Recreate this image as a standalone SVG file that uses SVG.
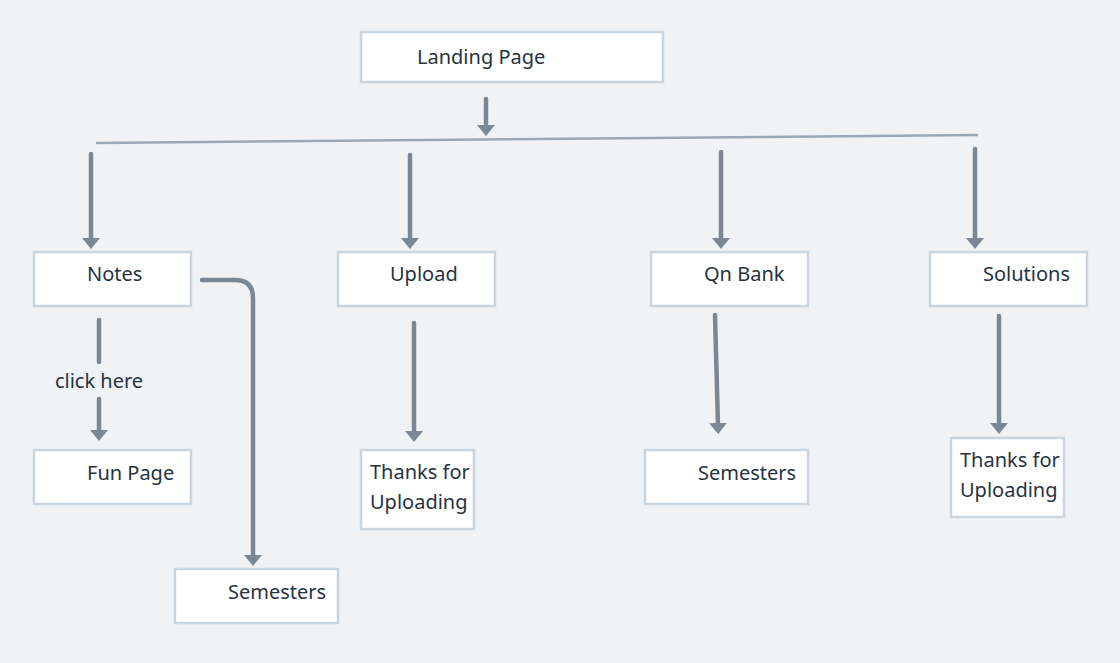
<svg xmlns="http://www.w3.org/2000/svg" width="1120" height="663" viewBox="0 0 1120 663">
<style>
.box{fill:#ffffff;stroke:#c9d5df;stroke-width:2.5}
.t{font-family:"Noto Sans","DejaVu Sans",sans-serif;font-size:20px;fill:#253341}
.c{fill:none;stroke:#7a8896;stroke-width:4.5;stroke-linecap:round}
.a{marker-end:url(#ah)}
</style>
<defs>
<marker id="ah" viewBox="0 0 11 18" markerWidth="11" markerHeight="18" refX="3" refY="9" orient="auto" markerUnits="userSpaceOnUse">
<path d="M0,0 L11,9 L0,18 z" fill="#7a8896"/>
</marker>
</defs>
<rect width="1120" height="663" fill="#eff3f6"/>
<g id="connectors">
<path class="c a" d="M486,99 V128"/>
<path d="M96,143 L978,135" fill="none" stroke="#9aa8b5" stroke-width="2.5"/>
<path class="c a" d="M91,154 V241"/>
<path class="c a" d="M410,155 V241"/>
<path class="c a" d="M721,152 V241"/>
<path class="c a" d="M975,149 V241"/>
<path class="c a" d="M202,280 H235 Q253,280 253,298 V558"/>
<path class="c" d="M99,320 V362"/>
<path class="c a" d="M99,399 V433"/>
<path class="c a" d="M414,323 V434"/>
<path class="c a" d="M715,315 L718,426"/>
<path class="c a" d="M999,316 V426"/>
<text class="t" x="99" y="388" text-anchor="middle">click here</text>
</g>
<g id="landing"><rect class="box" x="361" y="32" width="302" height="50"/><text class="t" x="417" y="64">Landing Page</text></g>
<g id="notes"><rect class="box" x="34" y="252" width="157" height="54"/><text class="t" x="87" y="281">Notes</text></g>
<g id="upload"><rect class="box" x="338" y="252" width="157" height="54"/><text class="t" x="390" y="281">Upload</text></g>
<g id="qnbank"><rect class="box" x="651" y="252" width="157" height="54"/><text class="t" x="704" y="281">Qn Bank</text></g>
<g id="solutions"><rect class="box" x="930" y="252" width="157" height="54"/><text class="t" x="983" y="281">Solutions</text></g>
<g id="funpage"><rect class="box" x="34" y="450" width="157" height="54"/><text class="t" x="87" y="480">Fun Page</text></g>
<g id="thanks1"><rect class="box" x="361" y="450" width="113" height="79"/><text class="t" x="370" y="479">Thanks for</text><text class="t" x="370" y="509">Uploading</text></g>
<g id="semesters2"><rect class="box" x="645" y="450" width="163" height="54"/><text class="t" x="698" y="480">Semesters</text></g>
<g id="thanks2"><rect class="box" x="951" y="438" width="113" height="79"/><text class="t" x="960" y="467">Thanks for</text><text class="t" x="960" y="497">Uploading</text></g>
<g id="semesters1"><rect class="box" x="175" y="569" width="163" height="54"/><text class="t" x="228" y="599">Semesters</text></g>
</svg>
